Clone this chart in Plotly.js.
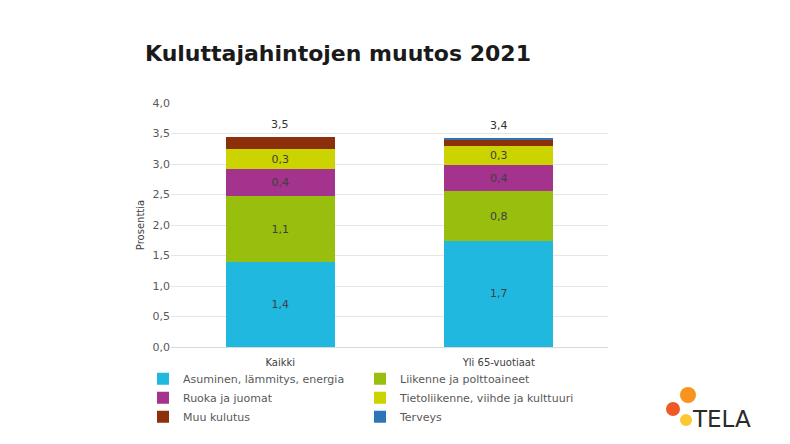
<!DOCTYPE html>
<html>
<head>
<meta charset="utf-8">
<script src="https://cdn.plot.ly/plotly-3.0.1.min.js"></script>
<style>html,body{margin:0;padding:0;background:#fff;}#chart{width:790px;height:444px;}</style>
</head>
<body>
<div id="chart"></div>
<script>
const categories = ["Kaikki", "Yli 65-vuotiaat"];
const seriesNames = ["Asuminen, lämmitys, energia", "Liikenne ja polttoaineet", "Ruoka ja juomat", "Tietoliikenne, viihde ja kulttuuri", "Muu kulutus", "Terveys"];
const asuminen = [1.39, 1.74];
const liikenne = [1.08, 0.81];
const ruoka = [0.44, 0.43];
const tietoliikenne = [0.33, 0.31];
const muu = [0.21, 0.10];
const terveys = [0.0, 0.03];
const totals = [3.5, 3.4];
const colors = ["#21b8e0", "#98bf0e", "#a3338c", "#cbd300", "#8b300a", "#2e75b6"];
const showLabels = [true, true, true, true, false, false];

const seriesValues = [asuminen, liikenne, ruoka, tietoliikenne, muu, terveys];
const traces = seriesValues.map((vals, i) => ({
  type: "bar",
  name: seriesNames[i],
  x: categories,
  y: vals,
  marker: {color: colors[i], line: {width: 0}},
  texttemplate: showLabels[i] ? "%{y:.1f}" : "",
  textposition: showLabels[i] ? "inside" : "none",
  insidetextanchor: "middle",
  textfont: {family: "DejaVu Sans", size: 11, color: "#404040"},
  hoverinfo: "none"
}));

const stackTops = categories.map((c, j) => seriesValues.reduce((s, v) => s + v[j], 0));
const totalAnnotations = categories.map((c, j) => ({
  x: c, y: stackTops[j], xref: "x", yref: "y",
  text: totals[j].toFixed(1).replace(".", ","),
  showarrow: false, yanchor: "bottom", yshift: 4,
  font: {family: "DejaVu Sans", size: 11, color: "#333333"}
}));

function px(x) { return (x - 171) / 437; }
function py(y) { return (347 - y) / 244; }

const layout = {
  width: 790, height: 444,
  margin: {l: 171, r: 182, t: 103, b: 97, autoexpand: false},
  paper_bgcolor: "#ffffff",
  plot_bgcolor: "#ffffff",
  separators: ", ",
  barmode: "stack",
  bargap: 0.5,
  font: {family: "DejaVu Sans", color: "#595959", size: 11},
  title: {
    text: "<b>Kuluttajahintojen muutos 2021</b>",
    font: {family: "DejaVu Sans", size: 22, color: "#1a1a1a"},
    x: 145 / 790, xanchor: "left", xref: "container",
    y: 1 - 53 / 444, yanchor: "middle", yref: "container"
  },
  xaxis: {
    type: "category",
    showgrid: false,
    showline: true, linecolor: "#d9d9d9", linewidth: 1,
    ticks: "", tickfont: {family: "DejaVu Sans", size: 10, color: "#404040"},
    ticklabelstandoff: 6
  },
  yaxis: {
    range: [0, 4],
    dtick: 0.5,
    tickformat: ".1f",
    showgrid: true, gridcolor: "#e6e6e6", gridwidth: 1,
    zeroline: false,
    showline: false,
    ticks: "",
    tickfont: {family: "DejaVu Sans", size: 11, color: "#595959"},
    title: {text: "Prosenttia", font: {family: "DejaVu Sans", size: 10, color: "#404040"}, standoff: 6}
  },
  legend: {
    orientation: "h",
    x: (143 - 171) / 437, xanchor: "left",
    y: -0.071, yanchor: "top",
    bgcolor: "rgba(0,0,0,0)",
    entrywidth: 172,
    entrywidthmode: "pixels",
    traceorder: "normal",
    font: {family: "DejaVu Sans", size: 11, color: "#595959"},
    itemwidth: 30,
    tracegroupgap: 0
  },
  shapes: [
    {type: "circle", xref: "paper", yref: "paper", x0: px(680), x1: px(696), y0: py(403), y1: py(387), fillcolor: "#f7941d", line: {width: 0}},
    {type: "circle", xref: "paper", yref: "paper", x0: px(666), x1: px(680), y0: py(416), y1: py(402), fillcolor: "#ef5a24", line: {width: 0}},
    {type: "circle", xref: "paper", yref: "paper", x0: px(680), x1: px(692), y0: py(426), y1: py(414), fillcolor: "#fdc82f", line: {width: 0}}
  ],
  annotations: totalAnnotations.concat([
    {text: "TELA", xref: "paper", yref: "paper", x: px(690), y: py(419), xanchor: "left", yanchor: "middle", showarrow: false,
     font: {family: "DejaVu Sans", size: 23, color: "#2b2b2b"}}
  ])
};

Plotly.newPlot("chart", traces, layout, {staticPlot: true, displayModeBar: false});
</script>
</body>
</html>
